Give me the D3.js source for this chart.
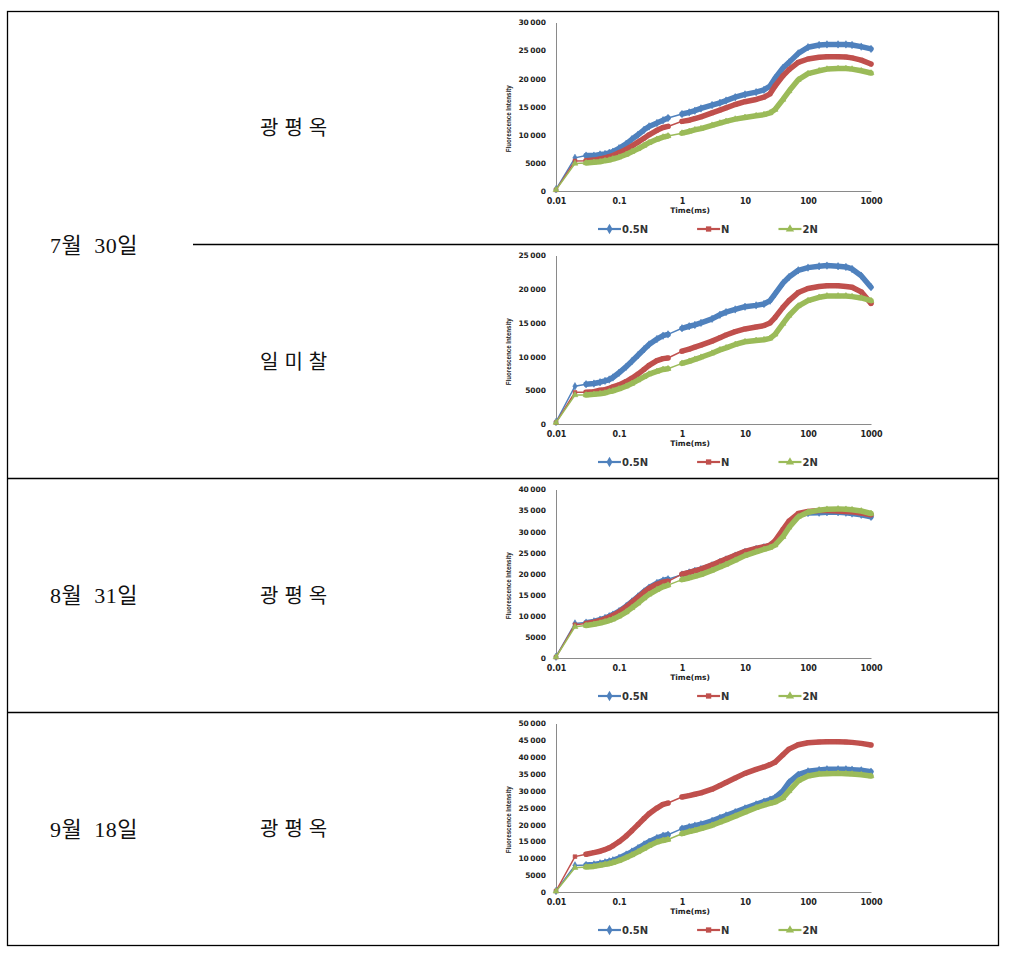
<!DOCTYPE html>
<html><head><meta charset="utf-8">
<script src="https://cdn.jsdelivr.net/npm/d3@7"></script>
<style>body{margin:0;background:#fff}</style>
</head><body><svg id="c" width="1013" height="960"></svg>
<script>
// ---------------- DATA ----------------
const times = [0.01,0.02,0.03,0.04,0.05,0.06,0.07,0.08,0.1,0.13,0.16,0.2,0.25,0.3,0.4,0.5,0.6,
  1,1.3,1.6,2,3,4,5,7,10,15,20,25,30,40,50,70,100,150,200,300,400,500,700,1000];
const seriesNames = ["0.5N","N","2N"];
const dateLabels = ["7월  30일","8월  31일","9월  18일"];
const varietyLabels = ["광평옥","일미찰","광평옥","광평옥"];
const yMaxes = [30000,25000,40000,50000];
const yTickStep = 5000;
const xTickValues = [0.01,0.1,1,10,100,1000];
const xTickLabels = ["0.01","0.1","1","10","100","1000"];
const xAxisTitle = "Time(ms)";
const yAxisTitle = "Fluorescence Intensity";

// Chart 1: 7/30 광평옥
const c1_05N = [300,5900,6300,6300,6500,6600,6800,7000,7600,8400,9200,10000,10900,11500,12100,12600,13000,
  13700,14000,14300,14700,15300,15700,16100,16700,17200,17600,18000,18700,20100,21900,22900,24500,25600,26000,26100,26100,26100,26000,25700,25300];
const c1_N = [200,5350,5400,5500,5700,5900,6100,6300,6800,7400,8000,8700,9400,10000,10800,11300,11500,
  12400,12600,12900,13200,13900,14400,14800,15400,15900,16300,16700,17300,18700,20500,21600,22900,23500,23800,23900,23900,23850,23700,23300,22600];
const c1_2N = [200,4900,5000,5100,5200,5400,5500,5700,6000,6500,7000,7500,8100,8600,9200,9600,9800,
  10300,10600,10900,11100,11700,12100,12400,12800,13100,13400,13600,13900,14500,16300,17800,19800,20900,21400,21700,21800,21800,21700,21400,21000];
// Chart 2: 7/30 일미찰
const c2_05N = [300,5600,5900,6000,6200,6400,6600,6900,7600,8500,9300,10200,11100,11800,12600,13100,13300,
  14200,14500,14700,15000,15600,16200,16600,17000,17400,17600,17800,18300,19300,20900,21800,22800,23200,23400,23500,23400,23300,23000,22000,20300];
const c2_N = [200,4700,4700,4800,5000,5100,5300,5500,5800,6300,6800,7400,8100,8700,9400,9700,9800,
  10800,11100,11400,11700,12300,12800,13200,13700,14100,14400,14600,15000,15800,17300,18300,19500,20100,20400,20500,20500,20400,20300,19600,17900];
const c2_2N = [200,4300,4300,4400,4500,4600,4800,4900,5200,5600,6000,6500,7000,7400,7800,8100,8200,
  9000,9300,9600,9900,10500,11000,11300,11800,12200,12400,12500,12700,13300,14900,16100,17500,18300,18800,19000,19000,19000,18900,18700,18300];
// Chart 3: 8/31 광평옥
const c3_05N = [300,8200,8400,8700,9100,9500,9900,10300,11100,12300,13400,14600,15800,16700,17800,18400,18700,
  19800,20300,20700,21100,22000,22800,23400,24300,25200,25900,26300,26700,27600,30000,32000,34000,34400,34500,34600,34600,34500,34300,34000,33500];
const c3_N = [200,7900,8200,8500,8900,9300,9700,10100,10900,12100,13200,14400,15600,16500,17500,18000,18200,
  19900,20300,20700,21100,22100,22900,23500,24400,25300,26000,26400,26800,27800,30500,32500,34300,34800,35000,35000,34900,34800,34700,34400,34000];
const c3_2N = [200,7400,7700,8000,8300,8600,8900,9200,9900,10900,11900,13000,14200,15100,16200,16900,17300,
  18600,19000,19400,19800,20800,21600,22200,23200,24300,25200,25800,26200,26800,28800,31000,33500,34600,35100,35300,35400,35300,35200,34900,34300];
// Chart 4: 9/18 광평옥
const c4_05N = [300,7900,8000,8200,8500,8800,9100,9400,10100,11100,12000,13000,14100,14900,16000,16700,17000,
  18800,19300,19700,20100,21100,22000,22700,23700,24800,26000,26800,27400,28000,30000,32500,34800,35800,36200,36400,36400,36400,36300,36100,35700];
const c4_N = [300,10500,11200,11700,12100,12600,13100,13700,14900,16600,18200,20000,21800,23200,24900,26000,26400,
  28200,28600,29000,29400,30500,31600,32500,33800,35200,36400,37100,37800,38500,40700,42400,43700,44300,44500,44600,44600,44500,44400,44100,43600];
const c4_2N = [200,7200,7400,7600,7900,8200,8400,8700,9300,10200,11000,11900,12900,13700,14800,15300,15600,
  17300,17900,18300,18800,19800,20700,21400,22500,23700,25000,25800,26300,26700,27900,30000,33000,34400,35000,35100,35200,35100,35000,34800,34400];

const chartSeries = [
  [c1_05N, c1_N, c1_2N],
  [c2_05N, c2_N, c2_2N],
  [c3_05N, c3_N, c3_2N],
  [c4_05N, c4_N, c4_2N]
];

// ---------------- STYLE / LAYOUT ----------------
const colors = ["#4F81BD","#C0504D","#9BBB59"];
const symbols = [d3.symbolDiamond, d3.symbolSquare, d3.symbolTriangle];
const symSizes = [16, 14, 15];
const svg = d3.select("#c");
const rowTops = [11.5, 244.5, 478.5, 712.5];
const tableL = 7.5, tableR = 998.5, tableB = 945.5;
const korFont = "'Liberation Serif','Noto Sans CJK KR',serif";

// Table borders
const tbl = svg.append("g").attr("stroke","#000").attr("stroke-width",1.3).attr("fill","none");
tbl.append("rect").attr("x",tableL).attr("y",rowTops[0]).attr("width",tableR-tableL).attr("height",tableB-rowTops[0]);
tbl.append("line").attr("x1",193).attr("x2",tableR).attr("y1",rowTops[1]).attr("y2",rowTops[1]);
tbl.append("line").attr("x1",tableL).attr("x2",tableR).attr("y1",rowTops[2]).attr("y2",rowTops[2]);
tbl.append("line").attr("x1",tableL).attr("x2",tableR).attr("y1",rowTops[3]).attr("y2",rowTops[3]);

// Date labels (merged cell for first)
const dateY = [(rowTops[0]+rowTops[2])/2, (rowTops[2]+rowTops[3])/2, (rowTops[3]+tableB)/2];
dateLabels.forEach((t,i)=>{
  svg.append("text").attr("x",50).attr("y",dateY[i]).attr("dy","0.35em")
    .attr("xml:space","preserve").style("white-space","pre")
    .attr("font-family",korFont).attr("font-size",22).attr("letter-spacing",0.5).attr("fill","#111").text(t);
});
const rowBottoms = [rowTops[1],rowTops[2],rowTops[3],tableB];
varietyLabels.forEach((t,i)=>{
  svg.append("text").attr("x",260).attr("y",(rowTops[i]+rowBottoms[i])/2).attr("dy","0.35em")
    .attr("font-family",korFont).attr("font-size",20).attr("letter-spacing",6).attr("fill","#111").text(t);
});

// Charts
const x = d3.scaleLog().domain([0.01,1000]).range([556,871]);
chartSeries.forEach((series,ci)=>{
  const top = rowTops[ci]+11, bottom = rowTops[ci]+179.5;
  const y = d3.scaleLinear().domain([0,yMaxes[ci]]).range([bottom, top]);
  const g = svg.append("g");
  // y axis
  const yTicks = d3.range(0, yMaxes[ci]+1, yTickStep);
  const yAx = g.append("g").attr("transform",`translate(${x(0.01)},0)`)
    .call(d3.axisLeft(y).tickValues(yTicks).tickSize(0).tickPadding(10)
      .tickFormat(v => v>=10000 ? d3.format(",")(v).replace(",", "\u2009") : String(v)));
  // x axis
  const xAx = g.append("g").attr("transform",`translate(0,${bottom})`)
    .call(d3.axisBottom(x).tickValues(xTickValues).tickSize(0).tickPadding(7)
      .tickFormat((v,i)=>xTickLabels[i]));
  [yAx,xAx].forEach(a=>{
    a.select(".domain").attr("stroke","#8a8a8a").attr("stroke-width",1);
    a.selectAll("text").attr("font-family","'DejaVu Sans',sans-serif").attr("font-weight","bold")
      .attr("font-size",7.5).attr("fill","#222");
  });
  xAx.selectAll("text").attr("font-size",8);
  // axis titles
  g.append("text").attr("x",x(1)+8).attr("y",bottom+22).attr("text-anchor","middle")
    .attr("font-family","'DejaVu Sans',sans-serif").attr("font-weight","bold").attr("font-size",7.5)
    .attr("fill","#222").text(xAxisTitle);
  g.append("text").attr("transform",`translate(511,${(top+bottom)/2+12}) rotate(-90)`)
    .attr("text-anchor","middle").attr("font-family","'Liberation Sans Narrow','Liberation Sans',sans-serif")
    .attr("font-weight","bold").attr("font-size",8).attr("textLength",67).attr("lengthAdjust","spacingAndGlyphs")
    .attr("fill","#222").text(yAxisTitle);

  // series
  series.forEach((vals,si)=>{
    const pts = times.map((t,k)=>[t, vals[k]]);
    const line = d3.line().x(d=>x(d[0])).y(d=>y(d[1]));
    g.append("path").attr("d",line(pts)).attr("fill","none").attr("stroke",colors[si]).attr("stroke-width",1.5);
    // dense-sampling bands
    let seg = [];
    const segs = [];
    for (let k=1;k<pts.length;k++){
      const dense = pts[k-1][0] >= 0.03 && pts[k][0]/pts[k-1][0] < 1.6;
      if (dense){ if(!seg.length) seg.push(pts[k-1]); seg.push(pts[k]); }
      else { if(seg.length) segs.push(seg); seg=[]; }
    }
    if(seg.length) segs.push(seg);
    segs.forEach(s=>{
      g.append("path").attr("d",line(s)).attr("fill","none").attr("stroke",colors[si])
        .attr("stroke-width",5.5).attr("stroke-linejoin","round").attr("stroke-linecap","round");
    });
    g.selectAll(null).data(pts).enter().append("path")
      .attr("d",d3.symbol().type(symbols[si]).size(symSizes[si]))
      .attr("transform",d=>`translate(${x(d[0])},${y(d[1])})`)
      .attr("fill",colors[si]).attr("stroke",colors[si]).attr("stroke-width",0.6);
  });

  // legend
  const ly = bottom + 38;
  let lx = 598;
  seriesNames.forEach((nm,si)=>{
    g.append("line").attr("x1",lx).attr("x2",lx+23).attr("y1",ly).attr("y2",ly)
      .attr("stroke",colors[si]).attr("stroke-width",2.2);
    g.append("path").attr("d",d3.symbol().type(symbols[si]).size(symSizes[si]*2)())
      .attr("transform",`translate(${lx+11.5},${ly})`).attr("fill",colors[si]);
    const tx = g.append("text").attr("x",lx+24).attr("y",ly).attr("dy","0.35em")
      .attr("font-family","'DejaVu Sans',sans-serif").attr("font-weight","bold").attr("font-size",10)
      .attr("fill","#333").text(nm);
    lx = lx + 24 + tx.node().getComputedTextLength() + 49;
  });
});
</script></body></html>
